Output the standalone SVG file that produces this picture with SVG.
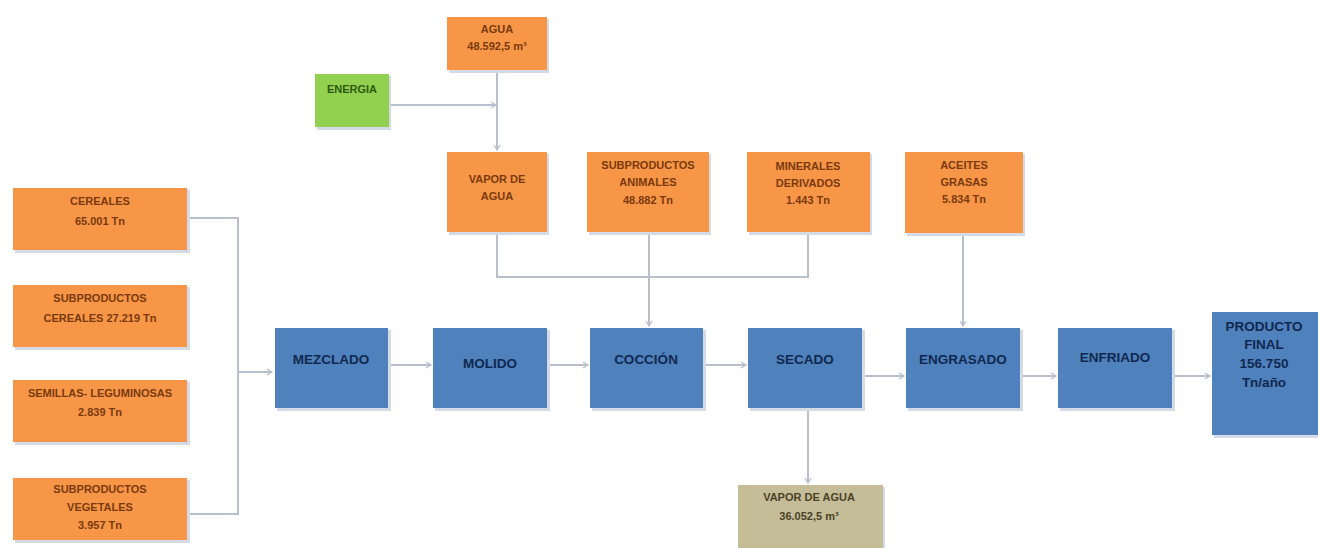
<svg xmlns="http://www.w3.org/2000/svg" width="1318" height="548" viewBox="0 0 1318 548">
<defs>
<marker id="arr" markerWidth="8" markerHeight="8" refX="6" refY="4" orient="auto" markerUnits="userSpaceOnUse">
<path d="M1,1 L6,4 L1,7" fill="none" stroke="#b8c0ce" stroke-width="1.3"/>
</marker>
</defs>
<style>
.sh{fill:#d5dbe6}
.or{fill:#f79646}
.bl{fill:#4f81bd}
.gr{fill:#92d050}
.tn{fill:#c4bd97}
.to{font-family:"Liberation Sans",Arial,sans-serif;font-size:11px;font-weight:bold;fill:#7a3a10;text-anchor:middle}
.tb{font-family:"Liberation Sans",Arial,sans-serif;font-size:13.5px;font-weight:bold;fill:#10284f;text-anchor:middle}
.tg{font-family:"Liberation Sans",Arial,sans-serif;font-size:11px;font-weight:bold;fill:#2f5a10;text-anchor:middle}
.tt{font-family:"Liberation Sans",Arial,sans-serif;font-size:11px;font-weight:bold;fill:#4a4228;text-anchor:middle}
.ln{fill:none;stroke:#b8c0ce;stroke-width:2}
</style>
<rect width="1318" height="548" fill="#ffffff"/>

<g id="connectors">
<path class="ln" d="M389,105 H496" marker-end="url(#arr)"/>
<path class="ln" d="M497,70 V150" marker-end="url(#arr)"/>
<path class="ln" d="M497,233 V277 H808 V233"/>
<path class="ln" d="M649,233 V326" marker-end="url(#arr)"/>
<path class="ln" d="M963,235 V326" marker-end="url(#arr)"/>
<path class="ln" d="M190,218 H238 V514 H190"/>
<path class="ln" d="M238,372 H272" marker-end="url(#arr)"/>
<path class="ln" d="M390,365 H431" marker-end="url(#arr)"/>
<path class="ln" d="M549,365 H588" marker-end="url(#arr)"/>
<path class="ln" d="M705,365 H746" marker-end="url(#arr)"/>
<path class="ln" d="M864,376 H904" marker-end="url(#arr)"/>
<path class="ln" d="M1022,376 H1056" marker-end="url(#arr)"/>
<path class="ln" d="M1174,376 H1210" marker-end="url(#arr)"/>
<path class="ln" d="M808,410 V483" marker-end="url(#arr)"/>
</g>

<g id="agua">
<rect class="sh" x="449" y="19" width="100" height="54"/>
<rect class="or" x="447" y="17" width="100" height="53"/>
<text class="to" x="497" y="33">AGUA</text>
<text class="to" x="497" y="50">48.592,5 m³</text>
</g>
<g id="energia">
<rect class="sh" x="317" y="76" width="74" height="54"/>
<rect class="gr" x="315" y="74" width="74" height="53"/>
<text class="tg" x="352" y="93">ENERGIA</text>
</g>
<g id="vapor-de-agua">
<rect class="sh" x="449" y="154" width="100" height="81"/>
<rect class="or" x="447" y="152" width="100" height="80"/>
<text class="to" x="497" y="183">VAPOR DE</text>
<text class="to" x="497" y="200">AGUA</text>
</g>
<g id="subproductos-animales">
<rect class="sh" x="589" y="154" width="122" height="81"/>
<rect class="or" x="587" y="152" width="122" height="80"/>
<text class="to" x="648" y="169">SUBPRODUCTOS</text>
<text class="to" x="648" y="186">ANIMALES</text>
<text class="to" x="648" y="204">48.882 Tn</text>
</g>
<g id="minerales">
<rect class="sh" x="749" y="154" width="123" height="81"/>
<rect class="or" x="747" y="152" width="123" height="80"/>
<text class="to" x="808" y="170">MINERALES</text>
<text class="to" x="808" y="187">DERIVADOS</text>
<text class="to" x="808" y="204">1.443 Tn</text>
</g>
<g id="aceites">
<rect class="sh" x="907" y="154" width="118" height="82"/>
<rect class="or" x="905" y="152" width="118" height="81"/>
<text class="to" x="964" y="169">ACEITES</text>
<text class="to" x="964" y="186">GRASAS</text>
<text class="to" x="964" y="203">5.834 Tn</text>
</g>

<g id="cereales">
<rect class="sh" x="15" y="190" width="175" height="63"/>
<rect class="or" x="13" y="188" width="174" height="62"/>
<text class="to" x="100" y="205">CEREALES</text>
<text class="to" x="100" y="225">65.001 Tn</text>
</g>
<g id="subproductos-cereales">
<rect class="sh" x="15" y="287" width="175" height="63"/>
<rect class="or" x="13" y="285" width="174" height="62"/>
<text class="to" x="100" y="302">SUBPRODUCTOS</text>
<text class="to" x="100" y="322">CEREALES 27.219 Tn</text>
</g>
<g id="semillas">
<rect class="sh" x="15" y="382" width="175" height="63"/>
<rect class="or" x="13" y="380" width="174" height="62"/>
<text class="to" x="100" y="397">SEMILLAS- LEGUMINOSAS</text>
<text class="to" x="100" y="416">2.839 Tn</text>
</g>
<g id="subproductos-vegetales">
<rect class="sh" x="15" y="480" width="175" height="63"/>
<rect class="or" x="13" y="478" width="174" height="62"/>
<text class="to" x="100" y="493">SUBPRODUCTOS</text>
<text class="to" x="100" y="511">VEGETALES</text>
<text class="to" x="100" y="529">3.957 Tn</text>
</g>

<g id="mezclado">
<rect class="sh" x="277" y="330" width="114" height="81"/>
<rect class="bl" x="275" y="328" width="113" height="80"/>
<text class="tb" x="331" y="364">MEZCLADO</text>
</g>
<g id="molido">
<rect class="sh" x="435" y="330" width="115" height="81"/>
<rect class="bl" x="433" y="328" width="114" height="80"/>
<text class="tb" x="490" y="368">MOLIDO</text>
</g>
<g id="coccion">
<rect class="sh" x="592" y="330" width="114" height="81"/>
<rect class="bl" x="590" y="328" width="113" height="80"/>
<text class="tb" x="646" y="364">COCCIÓN</text>
</g>
<g id="secado">
<rect class="sh" x="750" y="330" width="115" height="81"/>
<rect class="bl" x="748" y="328" width="114" height="80"/>
<text class="tb" x="805" y="364">SECADO</text>
</g>
<g id="engrasado">
<rect class="sh" x="908" y="330" width="115" height="81"/>
<rect class="bl" x="906" y="328" width="114" height="80"/>
<text class="tb" x="963" y="364">ENGRASADO</text>
</g>
<g id="enfriado">
<rect class="sh" x="1060" y="330" width="115" height="81"/>
<rect class="bl" x="1058" y="328" width="114" height="80"/>
<text class="tb" x="1115" y="362">ENFRIADO</text>
</g>
<g id="producto-final">
<rect class="sh" x="1214" y="314" width="104" height="124"/>
<rect class="bl" x="1212" y="312" width="106" height="123"/>
<text class="tb" x="1264" y="331">PRODUCTO</text>
<text class="tb" x="1264" y="349">FINAL</text>
<text class="tb" x="1264" y="368">156.750</text>
<text class="tb" x="1264" y="387">Tn/año</text>
</g>
<g id="vapor-salida">
<rect class="sh" x="740" y="487" width="145" height="61"/>
<rect class="tn" x="738" y="485" width="145" height="63"/>
<text class="tt" x="809" y="501">VAPOR DE AGUA</text>
<text class="tt" x="809" y="520">36.052,5 m³</text>
</g>
</svg>
